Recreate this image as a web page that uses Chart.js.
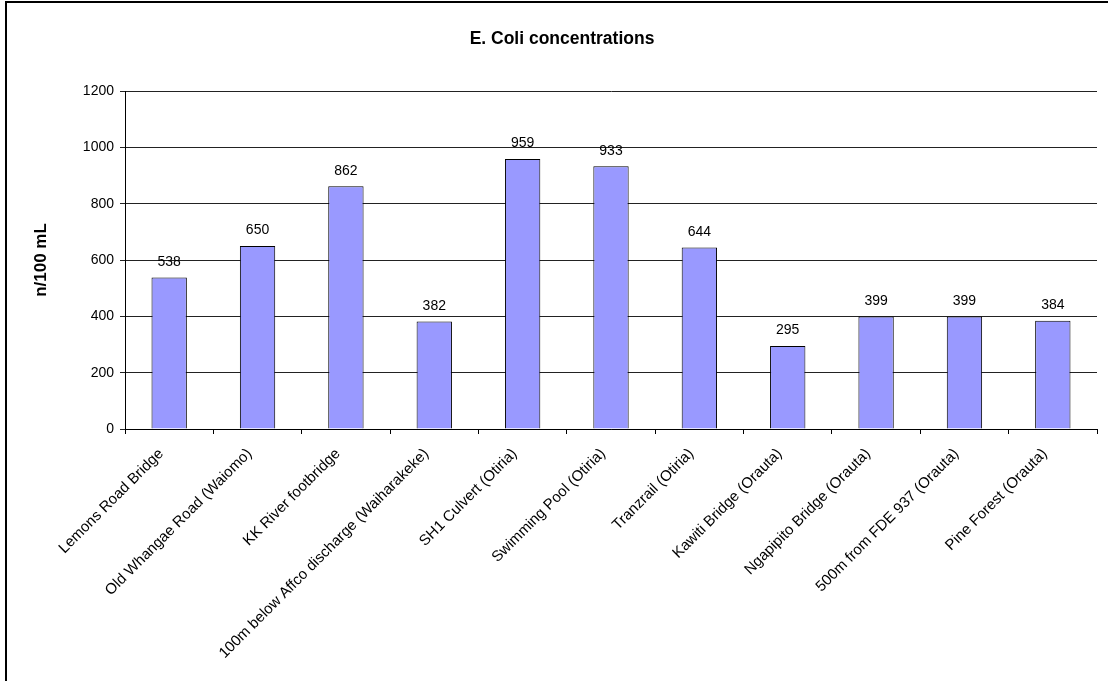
<!DOCTYPE html>
<html>
<head>
<meta charset="utf-8">
<title>E. Coli concentrations</title>
<script src="https://cdn.jsdelivr.net/npm/chart.js@4.4.1/dist/chart.umd.min.js"></script>
<style>
  html, body { margin: 0; padding: 0; background: #fff; overflow: hidden; }
  #wrap { position: relative; width: 1108px; height: 681px; }
  #frame {
    position: absolute; left: 5px; top: 1px; width: 1300px; height: 900px;
    border: 2px solid #000; pointer-events: none;
  }
  canvas { position: absolute; left: 0; top: 0; }
</style>
</head>
<body>
<div id="wrap">
  <canvas id="chart" width="1108" height="681"></canvas>
  <div id="frame"></div>
</div>
<script>
const sites = [
  'Lemons Road Bridge',
  'Old Whangae Road (Waiomo)',
  'KK River footbridge',
  '100m below Affco discharge (Waiharakeke)',
  'SH1 Culvert (Otiria)',
  'Swimming Pool (Otiria)',
  'Tranzrail (Otiria)',
  'Kawiti Bridge (Orauta)',
  'Ngapipito Bridge (Orauta)',
  '500m from FDE 937 (Orauta)',
  'Pine Forest (Orauta)'
];
const ecoli = [538, 650, 862, 382, 959, 933, 644, 295, 399, 399, 384];
const yTicks = [0, 200, 400, 600, 800, 1000, 1200];

const FONT = "'Liberation Sans', Arial, sans-serif";

// value printed above each bar
const barValues = {
  id: 'barValues',
  afterDatasetsDraw(chart) {
    const ctx = chart.ctx;
    const meta = chart.getDatasetMeta(0);
    ctx.save();
    ctx.font = '14px ' + FONT;
    ctx.fillStyle = '#000';
    ctx.textAlign = 'center';
    ctx.textBaseline = 'middle';
    meta.data.forEach((bar, i) => {
      ctx.fillText(String(chart.data.datasets[0].data[i]), bar.x, bar.y - 15.5);
    });
    ctx.restore();
  }
};

new Chart(document.getElementById('chart'), {
  type: 'bar',
  data: {
    labels: sites,
    datasets: [{
      label: 'E. Coli',
      data: ecoli,
      backgroundColor: '#9999ff',
      borderColor: '#000',
      borderWidth: 1,
      categoryPercentage: 1,
      barPercentage: 0.4
    }]
  },
  options: {
    responsive: false,
    animation: false,
    devicePixelRatio: 1,
    layout: { padding: { left: 27, right: 11, top: 0, bottom: 0 } },
    plugins: {
      legend: { display: false },
      tooltip: { enabled: false },
      title: {
        display: true,
        text: 'E. Coli concentrations',
        color: '#000',
        font: { family: FONT, size: 17.5, weight: 'bold' },
        padding: { top: 29, bottom: 41 }
      }
    },
    scales: {
      x: {
        grid: {
          display: true,
          drawOnChartArea: false,
          drawTicks: true,
          tickLength: 5,
          color: '#000',
          offset: true
        },
        border: { display: true, color: '#000', width: 1 },
        ticks: {
          autoSkip: false,
          minRotation: 45,
          maxRotation: 45,
          padding: 11,
          labelOffset: -8,
          color: '#000',
          font: { family: FONT, size: 15 }
        },
        afterFit(scale) { scale.height = 252; }
      },
      y: {
        min: 0,
        max: 1200,
        afterBuildTicks(scale) { scale.ticks = yTicks.map(v => ({ value: v })); },
        grid: {
          color: '#222',
          lineWidth: 1,
          drawTicks: true,
          tickLength: 5
        },
        border: { display: true, color: '#000', width: 1 },
        ticks: {
          padding: 6,
          color: '#000',
          font: { family: FONT, size: 14 },
          callback: v => String(v)
        },
        title: {
          display: true,
          text: 'n/100 mL',
          color: '#000',
          font: { family: FONT, size: 17, weight: 'bold' },
          padding: { top: 4, bottom: 0 }
        },
        afterFit(scale) { scale.width = 98; }
      }
    }
  },
  plugins: [barValues]
});
</script>
</body>
</html>
